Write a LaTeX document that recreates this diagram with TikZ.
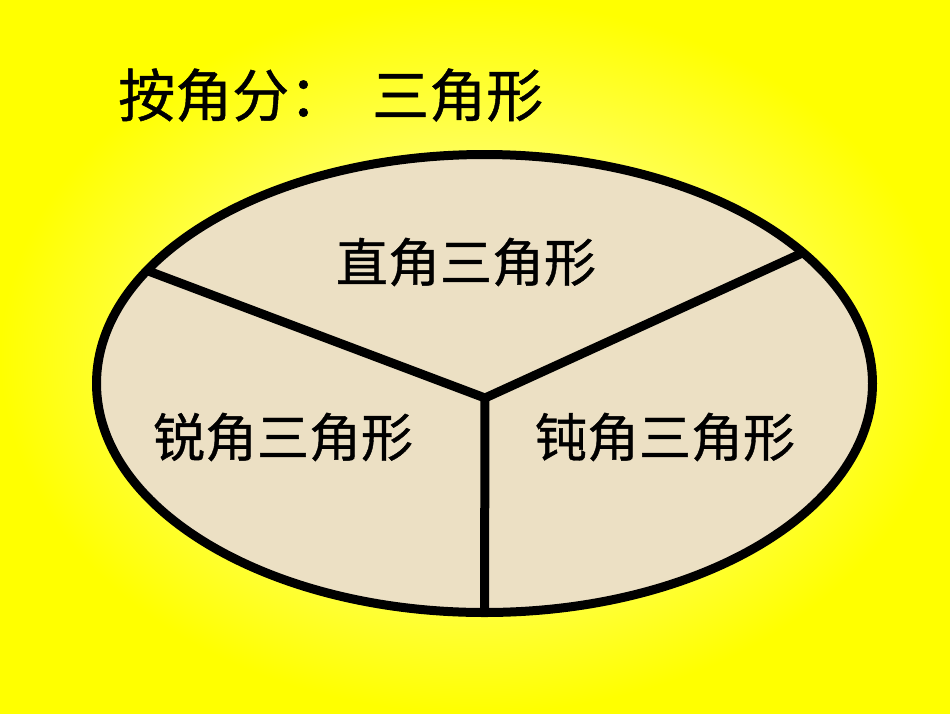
\documentclass[tikz,border=0pt]{standalone}
\usepackage{fontspec}
\newfontfamily\cjk[FakeBold=0.8]{Noto Sans CJK SC}
\definecolor{bgyellow}{RGB}{255,255,0}
\definecolor{bglight}{RGB}{255,255,205}
\definecolor{parch}{RGB}{236,224,196}
\begin{document}
\begin{tikzpicture}[x=1pt,y=-1pt,
  divline/.style={line width=9pt, line join=miter, line cap=butt},
  rim/.style={line width=9pt, fill=parch},
  label/.style={inner sep=0pt, font=\cjk\fontsize{52}{52}\selectfont},
  titletext/.style={inner sep=0pt, anchor=west, font=\cjk\fontsize{57}{57}\selectfont}]
  \useasboundingbox (0,0) rectangle (950,713);
  \shade[inner color=bglight, outer color=bgyellow] (0,0) rectangle (950,713);
  \path[rim,draw] (484.5,383.5) ellipse [x radius=388, y radius=229];
  \coordinate (J) at (485,398);
  \coordinate (L) at (147,270.5);
  \coordinate (R) at (803,252.7);
  \coordinate (B) at (484.5,612.5);
  \draw[divline] (L) -- (J) -- (R);
  \draw[divline] (J) -- (B);
  \node[titletext] (t1) at (118,95) {按角分：};
  \node[titletext] (t2) at (372,95) {三角形};
  \node[label] (right) at (466,262) {直角三角形};
  \node[label] (acute) at (283,437) {锐角三角形};
  \node[label] (obtuse) at (665,437) {钝角三角形};
\end{tikzpicture}
\end{document}
